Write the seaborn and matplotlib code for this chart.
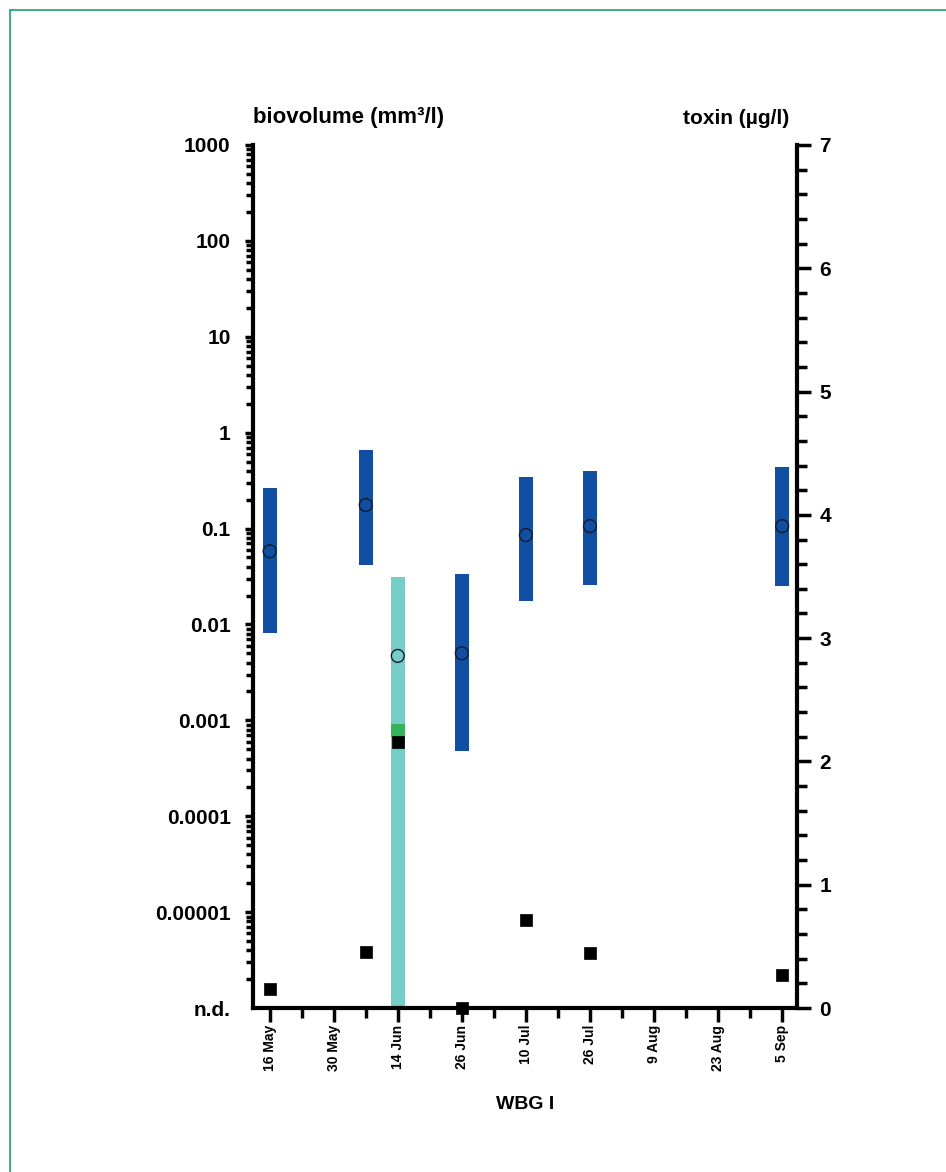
import seaborn as sns
import matplotlib.pyplot as plt
import matplotlib.ticker as mticker
import matplotlib.lines as mlines
import pandas as pd
import numpy as np

# x axis: evenly spaced sampling dates
dates = ['16 May', '30 May', '14 Jun', '26 Jun', '10 Jul', '26 Jul', '9 Aug', '23 Aug', '5 Sep']

# blue biovolume ranges (mm3/l)
blue_pos = [0, 1.5, 3, 4, 5, 8]
blue_low = [0.0081, 0.042, 0.00048, 0.0175, 0.026, 0.025]
blue_high = [0.264, 0.66, 0.0336, 0.344, 0.40, 0.44]
blue_mid = [0.058, 0.176, 0.005, 0.0855, 0.106, 0.106]

# teal range at 14 Jun (down to n.d.)
teal_pos = [2]
teal_low = [1e-6]
teal_high = [0.031]
teal_mid = [0.0047]

# green segment at 14 Jun
green_pos = [2]
green_low = [0.00067]
green_high = [0.00091]

# toxin (ug/l)
tox_pos = [0, 1.5, 2, 3, 4, 5, 8]
tox_val = [0.155, 0.454, 2.16, 0.0, 0.715, 0.446, 0.266]

sns.set_style("ticks")
plt.rcParams['font.family'] = ['Liberation Sans', 'DejaVu Sans']
plt.rcParams['font.weight'] = 'bold'
for k in ('text.color', 'axes.labelcolor', 'xtick.color', 'ytick.color'):
    plt.rcParams[k] = 'black'

fig = plt.figure(figsize=(9.46, 11.72), dpi=100)
ax = fig.add_axes([0.2674, 0.1399, 0.575, 0.7364])
ax2 = ax.twinx()

w = 0.22
ax.bar(blue_pos, np.array(blue_high) - np.array(blue_low), bottom=blue_low, width=w,
       color='#114fa3', edgecolor='none', zorder=2)
ax.bar(teal_pos, np.array(teal_high) - np.array(teal_low), bottom=teal_low, width=w,
       color='#76cdc7', edgecolor='none', zorder=2)
ax.bar(green_pos, np.array(green_high) - np.array(green_low), bottom=green_low, width=w,
       color='#36b35a', edgecolor='none', zorder=3)

mid = pd.DataFrame({'pos': blue_pos + teal_pos, 'bv': blue_mid + teal_mid})
sns.scatterplot(data=mid, x='pos', y='bv', ax=ax, marker='o', s=85,
                facecolor='none', edgecolor='#161a2a', linewidth=1.0, zorder=4)

tox = pd.DataFrame({'pos': tox_pos, 'tox': tox_val})
sns.scatterplot(data=tox, x='pos', y='tox', ax=ax2, marker='s', s=80,
                color='black', edgecolor='black', linewidth=0.5, zorder=5, clip_on=False)

# left log axis
ax.set_yscale('log')
ax.set_ylim(1e-6, 1e3)
ax.set_xlim(-0.26, 8.23)
ax.yaxis.set_major_locator(mticker.FixedLocator([10.0 ** k for k in range(-6, 4)]))
ax.yaxis.set_major_formatter(mticker.FixedFormatter(
    ['n.d.', '0.00001', '0.0001', '0.001', '0.01', '0.1', '1', '10', '100', '1000']))
ax.yaxis.set_minor_locator(mticker.LogLocator(base=10, subs=np.arange(2, 10), numticks=20))
ax.yaxis.set_minor_formatter(mticker.NullFormatter())
ax.tick_params(axis='y', which='major', length=6, width=2.5, labelsize=15, pad=10)
ax.tick_params(axis='y', which='minor', length=5, width=2.5)
ax.get_yticklines()[0].set_visible(False)

# x axis
ax.set_xticks(range(len(dates)))
ax.set_xticklabels(dates, rotation=90, fontsize=10, fontweight='bold')
ax.set_xticks(np.arange(0.5, 8, 1), minor=True)
ax.tick_params(axis='x', which='major', length=10, width=2.5, pad=2)
ax.tick_params(axis='x', which='minor', length=7, width=2.5)
ax.set_xlabel('WBG I', fontsize=14, fontweight='bold', labelpad=18)
ax.set_ylabel('')

# right toxin axis
ax2.set_ylim(0, 7)
ax2.yaxis.set_major_locator(mticker.MultipleLocator(1))
ax2.yaxis.set_minor_locator(mticker.MultipleLocator(0.2))
ax2.tick_params(axis='y', which='major', length=10, width=2.5, labelsize=15, pad=6)
ax2.tick_params(axis='y', which='minor', length=7, width=2.5)
ax2.set_ylabel('')

for a in (ax, ax2):
    for s in ('left', 'right', 'bottom'):
        a.spines[s].set_linewidth(3)
        a.spines[s].set_color('black')
    a.spines['top'].set_visible(False)
    for lab in a.get_yticklabels():
        lab.set_fontweight('bold')
ax.spines['right'].set_visible(False)
ax2.spines['left'].set_visible(False)
ax2.spines['bottom'].set_visible(False)

ax.text(0.0, 1.02, 'biovolume (mm\u00b3/l)', transform=ax.transAxes, ha='left', va='bottom',
        fontsize=16, fontweight='bold')
ax.text(0.985, 1.02, 'toxin (\u00b5g/l)', transform=ax.transAxes, ha='right', va='bottom',
        fontsize=15, fontweight='bold')

# green page frame (left and top edges)
fig.add_artist(mlines.Line2D([9.5 / 946, 9.5 / 946], [0, 1 - 9.5 / 1172],
                             transform=fig.transFigure, color='#1aa06a', lw=1.2))
fig.add_artist(mlines.Line2D([9.5 / 946, 1], [1 - 9.5 / 1172, 1 - 9.5 / 1172],
                             transform=fig.transFigure, color='#1aa06a', lw=1.2))

fig.savefig('out.png', dpi=100)
